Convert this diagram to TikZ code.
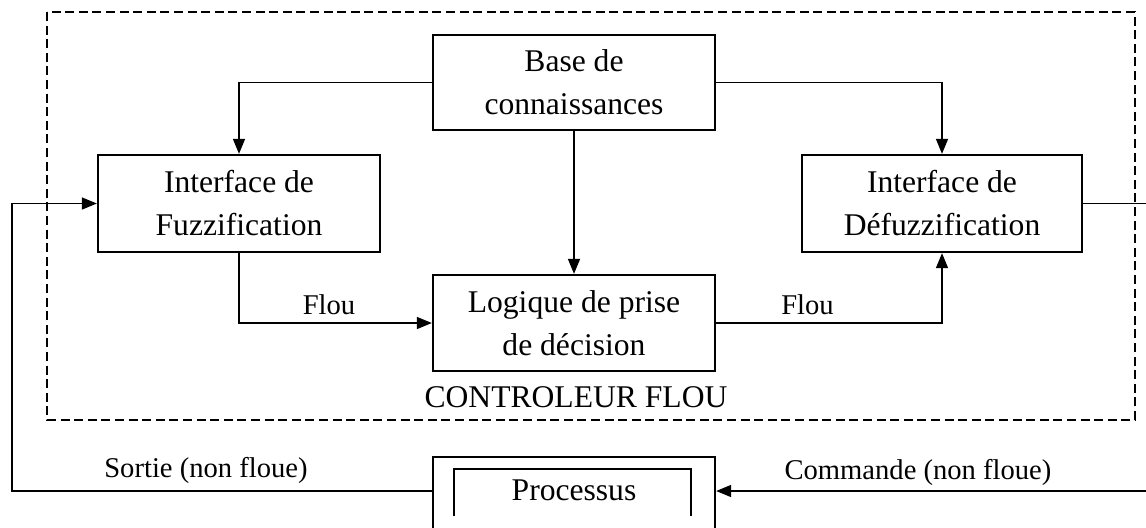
\documentclass[tikz,border=0pt]{standalone}
\usepackage{fontspec}
\setmainfont{Liberation Serif}
\usetikzlibrary{arrows.meta}
\begin{document}
\begin{tikzpicture}[x=0.5pt,y=-0.5pt,
  blk/.style={draw=black,line width=1.15pt,fill=white,inner sep=0pt,align=center,
    font=\fontsize{15.8pt}{21.5pt}\selectfont},
  conn/.style={draw=black,line width=0.75pt},
  arr/.style={conn,-{Triangle[length=7.5pt,width=6pt]}},
  lbl/.style={font=\fontsize{14.3pt}{17pt}\selectfont,inner sep=0pt},
  frame/.style={draw=black,line width=1.3pt,dash pattern=on 4.5pt off 2.3pt}]
\useasboundingbox (0,0) rectangle (1146,527);
\fill[white] (0,0) rectangle (1146,527);
% dashed frame
\draw[frame] (47,12) rectangle (1135,420);
% blocks
\node[blk,minimum width=141pt,minimum height=47.5pt] (base) at (574,82.5) {Base de\\connaissances};
\node[blk,minimum width=141pt,minimum height=48.5pt] (fuzz) at (239,203.5) {Interface de\\Fuzzification};
\node[blk,minimum width=140pt,minimum height=48.5pt] (defuzz) at (942,203.5) {Interface de\\Défuzzification};
\node[blk,minimum width=141pt,minimum height=48pt] (logic) at (574,323) {Logique de prise\\de décision};
\node[blk,minimum width=141pt,minimum height=38pt] (proc) at (574,495) {};
\draw[line width=0.6pt] (454,516) -- (454,469) -- (691,469) -- (691,516);
\node[font=\fontsize{15.8pt}{18pt}\selectfont,inner sep=0pt] (proctxt) at (574,490) {Processus};
% title
\node[font=\fontsize{15.8pt}{18pt}\selectfont,inner sep=0pt] (title) at (576,397) {CONTROLEUR FLOU};
% coordinates
\coordinate (R1) at (1146,203.5);
\coordinate (R2) at (1146,491);
\coordinate (L1) at (12,491);
% connectors
\draw[arr] (base.west) -| (fuzz.north);
\draw[arr] (base.east) -| (defuzz.north);
\draw[arr] (base.south) -- (logic.north);
\draw[arr] (fuzz.south) |- (logic.west);
\draw[arr] (logic.east) -| (defuzz.south);
\draw[conn] (defuzz.east) -- (R1);
\draw[arr] (R2) -- (R2 -| proc.east);
\draw[arr] (L1 -| proc.west) -- (L1) |- (fuzz.west);
% labels
\node[lbl] (f1) at (329,305) {Flou};
\node[lbl] (f2) at (807.5,305) {Flou};
\node[lbl] (sortie) at (206,470) {Sortie (non floue)};
\node[lbl] (cmd) at (918,472) {Commande (non floue)};
\end{tikzpicture}
\end{document}
